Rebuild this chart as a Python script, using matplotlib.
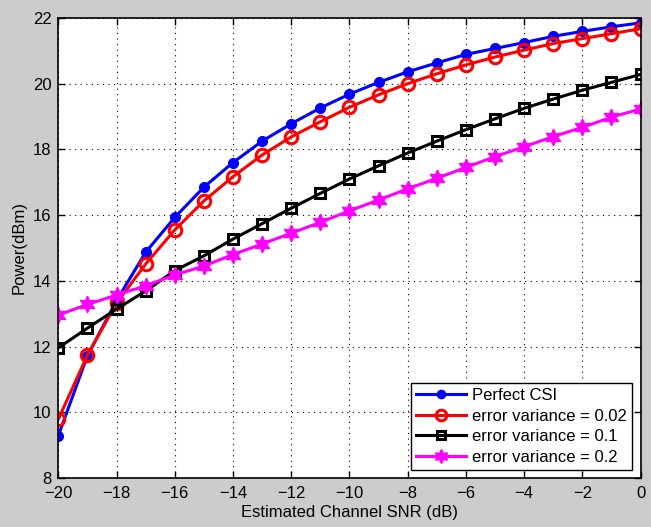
import numpy as np
import matplotlib
matplotlib.use('Agg')
import matplotlib.pyplot as plt

plt.rcParams['font.family'] = ['Liberation Sans', 'DejaVu Sans']

# 数据
snr = list(range(-20, 1))
perfect_csi = [9.29, 11.72, 13.4, 14.87, 15.93, 16.85, 17.6, 18.25, 18.78, 19.26,
               19.68, 20.04, 20.36, 20.63, 20.89, 21.07, 21.25, 21.44, 21.59, 21.73, 21.85]
var_002 = [9.79, 11.74, 13.32, 14.51, 15.55, 16.43, 17.17, 17.83, 18.38, 18.84,
           19.28, 19.66, 20.0, 20.3, 20.57, 20.81, 21.02, 21.22, 21.37, 21.52, 21.67]
var_01 = [11.96, 12.56, 13.14, 13.69, 14.31, 14.76, 15.27, 15.74, 16.21, 16.66,
          17.1, 17.5, 17.89, 18.25, 18.6, 18.93, 19.25, 19.53, 19.8, 20.04, 20.28]
var_02 = [12.96, 13.28, 13.57, 13.85, 14.18, 14.45, 14.8, 15.12, 15.45, 15.78,
          16.13, 16.46, 16.8, 17.12, 17.45, 17.78, 18.08, 18.39, 18.67, 18.98, 19.23]
labels = ['Perfect CSI', 'error variance = 0.02', 'error variance = 0.1', 'error variance = 0.2']
xticks = list(range(-20, 1, 2))
yticks = list(range(8, 23, 2))

fs = 12
fig = plt.figure(figsize=(6.51, 5.27), dpi=100, facecolor='#cccccc')
ax = fig.add_axes([0.0896, 0.093, 0.8944, 0.873])

ax.plot(snr, perfect_csi, color='#0000ff', lw=2.2, marker='o', ms=7, label=labels[0])
ax.plot(snr, var_002, color='#ff0000', lw=2.2, marker='o', ms=9, mfc='none', mew=2.2, label=labels[1])
ax.plot(snr, var_01, color='black', lw=2.2, marker='s', ms=7, mfc='none', mew=2.2, label=labels[2])
ax.plot(snr, var_02, color='#ff00ff', lw=2.2, marker=(6, 1, 0), ms=12, label=labels[3])

ax.set_xlim(-20, 0)
ax.set_ylim(8, 22)
ax.set_xticks(xticks)
ax.set_yticks(yticks)
ax.set_xticklabels([str(t).replace('-', '\u2212') for t in xticks])
ax.tick_params(direction='in', top=True, right=True, labelsize=fs, length=5, width=1)
ax.tick_params(axis='x', pad=6)
ax.tick_params(axis='y', pad=5)
ax.grid(True, linestyle=(0, (1, 4)), color='black', lw=0.8)
ax.set_xlabel('Estimated Channel SNR (dB)', fontsize=fs, labelpad=3)
ax.set_ylabel('Power(dBm)', fontsize=fs, labelpad=4)
for s in ax.spines.values():
    s.set_linewidth(1.2)

leg = ax.legend(loc='lower right', fontsize=fs, fancybox=False, framealpha=1,
                edgecolor='black', handlelength=3.0, borderaxespad=0.5,
                labelspacing=0.33, borderpad=0.3, handletextpad=0.4, markerscale=0.85)
leg.get_frame().set_linewidth(1.0)

fig.savefig('out.png', dpi=100, facecolor=fig.get_facecolor())
